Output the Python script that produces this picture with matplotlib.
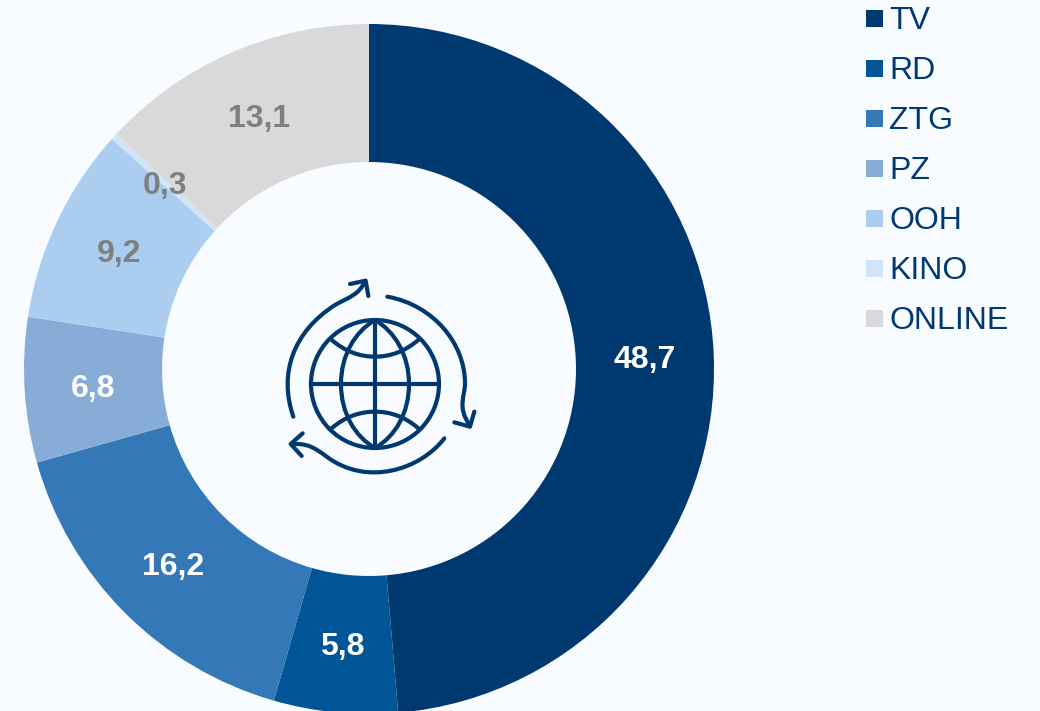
import matplotlib
matplotlib.use('Agg')
import matplotlib.pyplot as plt
import numpy as np
from matplotlib.patches import Circle, PathPatch, Rectangle
from matplotlib.path import Path

plt.rcParams['font.family'] = ['Liberation Sans', 'DejaVu Sans']

categories = ['TV', 'RD', 'ZTG', 'PZ', 'OOH', 'KINO', 'ONLINE']
values = [48.7, 5.8, 16.2, 6.8, 9.2, 0.3, 13.1]
colors = ['#003870', '#005596', '#3478B8', '#88ACD8', '#ABCDF0', '#D0E5F9', '#D9D9D9']
label_colors = ['white', 'white', 'white', 'white', '#7F7F7F', '#7F7F7F', '#7F7F7F']

BG = '#F8FBFF'
NAVY = '#003870'
W, H = 1040, 711

fig = plt.figure(figsize=(W / 100, H / 100), dpi=100, facecolor=BG)
ax = fig.add_axes([0, 0, 1, 1])

cx, cy = 369, H - 369
R_OUT, R_IN = 345, 207

wedges, _ = ax.pie(values, colors=colors, startangle=90, counterclock=False,
                   center=(cx, cy), radius=R_OUT,
                   wedgeprops=dict(width=R_OUT - R_IN, linewidth=0))
ax.set_xlim(0, W)
ax.set_ylim(0, H)
ax.set_aspect('equal')
ax.axis('off')

# value labels in the middle of the ring
r_mid = (R_OUT + R_IN) / 2
for w, v, c in zip(wedges, values, label_colors):
    a = np.deg2rad((w.theta1 + w.theta2) / 2)
    ax.text(cx + r_mid * np.cos(a), cy + r_mid * np.sin(a) - 3, f'{v:.1f}'.replace('.', ','),
            color=c, fontsize=23, fontweight='bold', ha='center', va='center')

# legend
for i, (name, c) in enumerate(zip(categories, colors)):
    yc = H - (18 + 50 * i)
    ax.add_patch(Rectangle((866, yc - 8.5), 17, 17, facecolor=c, edgecolor='none'))
    ax.text(889.3, yc + 0.5, name, color=NAVY, fontsize=23, ha='left', va='center_baseline')


# globe icon
def px(x, y):
    return 270 + x / 3, H - (260 + y / 3)


LW = 3.0
style = dict(edgecolor=NAVY, facecolor='none', linewidth=LW, capstyle='round', joinstyle='round')
gx, gy = px(315, 372)
ax.add_patch(Circle((gx, gy), 64, **style))


def line(points):
    ax.add_patch(PathPatch(Path([px(*p) for p in points]), **style))


def curve(points):
    # first point is the start, then groups of three bezier points
    codes = [Path.MOVETO] + [Path.CURVE4] * (len(points) - 1)
    ax.add_patch(PathPatch(Path([px(*p) for p in points], codes), **style))


# meridians meet in a point at both poles
curve([(315, 180), (255, 215), (213, 285), (213, 372), (213, 460), (255, 530), (315, 564)])
curve([(315, 180), (375, 215), (417, 285), (417, 372), (417, 460), (375, 530), (315, 564)])
line([(315, 180), (315, 564)])
line([(123, 372), (507, 372)])
curve([(183, 238), (225, 275), (270, 290), (315, 290), (360, 290), (405, 275), (447, 238)])
curve([(185, 505), (225, 470), (270, 455), (315, 455), (360, 455), (405, 470), (445, 505)])

# circular arrows round the globe
curve([(70, 470), (25, 340), (70, 215), (195, 135), (240, 110), (265, 105), (285, 65)])
line([(240, 72), (287, 62), (295, 108)])
curve([(352, 110), (490, 135), (585, 250), (585, 370), (585, 410), (560, 440), (600, 497)])
line([(553, 487), (600, 500), (613, 455)])
curve([(523, 535), (450, 630), (290, 680), (170, 590), (130, 560), (110, 550), (65, 552)])
line([(98, 520), (62, 552), (95, 588)])

fig.savefig('out.png', dpi=100, facecolor=BG)
